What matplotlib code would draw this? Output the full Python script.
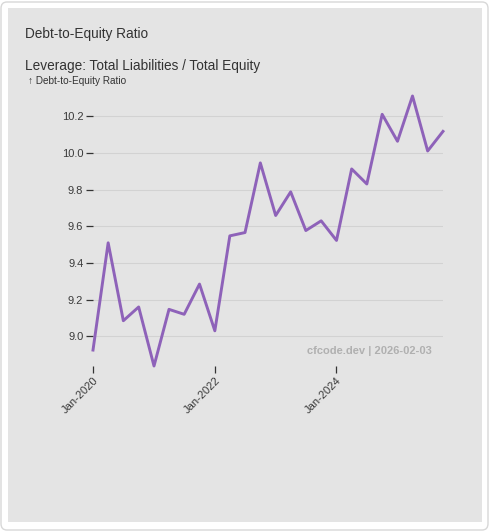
import numpy as np
import pandas as pd
import matplotlib
matplotlib.use("Agg")
import matplotlib.pyplot as plt
import matplotlib.dates as mdates
from matplotlib.patches import FancyBboxPatch

plt.rcParams["font.family"] = ["Liberation Sans", "DejaVu Sans"]

# Данные: квартальные значения долговой нагрузки
dates = pd.date_range("2020-01-01", periods=24, freq="QS")
ratio = [8.925, 9.51, 9.085, 9.16, 8.838, 9.147, 9.12, 9.285,
         9.03, 9.548, 9.566, 9.946, 9.659, 9.788, 9.577, 9.63,
         9.523, 9.913, 9.831, 10.211, 10.064, 10.311, 10.011, 10.118]
tick_years = [2020, 2022, 2024]
yticks = [9.0, 9.2, 9.4, 9.6, 9.8, 10.0, 10.2]

W, H = 490, 531
fig = plt.figure(figsize=(W / 100, H / 100), dpi=100)
fig.patch.set_facecolor("white")

# рамка карточки и серый фон
fig.patches.append(FancyBboxPatch((1 / W, 1 / H), (W - 3) / W, (H - 3) / H,
                                  boxstyle="round,pad=0,rounding_size=0.012",
                                  transform=fig.transFigure, facecolor="white",
                                  edgecolor="#d8d8d8", linewidth=1, zorder=-3))
fig.patches.append(FancyBboxPatch((8 / W, 9 / H), (W - 16) / W, (H - 17) / H,
                                  boxstyle="square,pad=0", transform=fig.transFigure,
                                  facecolor="#e4e4e4", edgecolor="none", zorder=-2))

ax = fig.add_axes([93 / W, 1 - 366 / H, 350 / W, 270 / H])
ax.set_facecolor("none")
ax.set_zorder(1)

ax.plot(dates, ratio, color="#8e62b9", linewidth=2.1, clip_on=False)

ax.set_xlim(dates[0], dates[-1])
ax.set_ylim(min(ratio), max(ratio))
ax.set_yticks(yticks)
ax.set_yticklabels([f"{v:.1f}" for v in yticks])
ax.set_xticks([pd.Timestamp(f"{y}-01-01") for y in tick_years])
ax.xaxis.set_major_formatter(mdates.DateFormatter("%b-%Y"))

for s in ax.spines.values():
    s.set_visible(False)
ax.grid(axis="y", color="#d2d2d2", linewidth=0.8)
ax.set_axisbelow(True)
ax.tick_params(axis="y", length=5, width=0.9, color="#333333", labelsize=8,
               labelcolor="#3a3a3a", pad=2)
ax.tick_params(axis="x", length=5, width=0.9, color="#333333", labelsize=8,
               labelcolor="#3a3a3a", pad=2)
for lbl in ax.get_xticklabels():
    lbl.set_rotation(45)
    lbl.set_ha("right")
    lbl.set_rotation_mode("anchor")

# заголовки
fig.text(25 / W, 1 - 34 / H, "Debt-to-Equity Ratio", fontsize=9.8, color="#333333",
         va="center", ha="left")
fig.text(25 / W, 1 - 66 / H, "Leverage: Total Liabilities / Total Equity", fontsize=9.8,
         color="#333333", va="center", ha="left")
fig.text(28 / W, 1 - 81 / H, "\u2191 Debt-to-Equity Ratio", fontsize=7.2, color="#333333",
         va="center", ha="left")
fig.text(432 / W, 1 - 351 / H, "cfcode.dev | 2026-02-03", fontsize=8.0, color="#b0b0b0",
         va="center", ha="right", fontweight="bold")

fig.savefig("out.png", dpi=100, facecolor=fig.get_facecolor())
